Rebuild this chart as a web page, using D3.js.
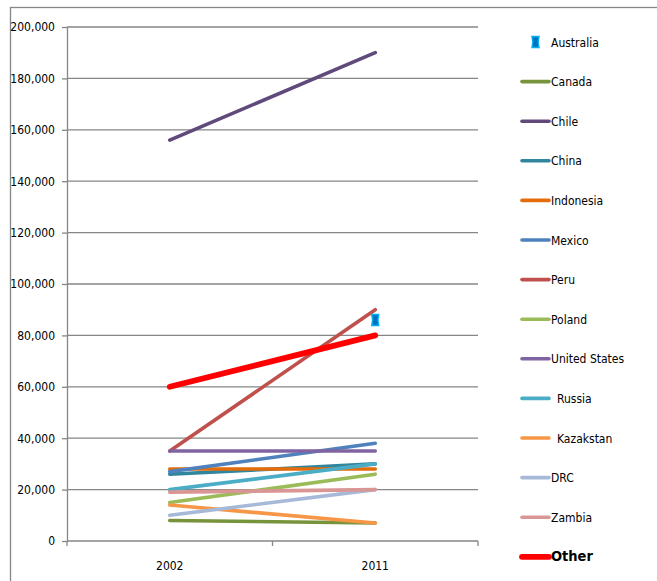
<!DOCTYPE html>
<html>
<head>
<meta charset="utf-8">
<script src="https://cdn.jsdelivr.net/npm/d3@7"></script>
<style>
  body { margin: 0; background: #fff; }
  svg text { font-family: "DejaVu Sans Condensed", "Liberation Sans", sans-serif; fill: #000; }
  .grid line { stroke: #868686; stroke-width: 1.3; }
  .axis path, .axis line { stroke: #868686; stroke-width: 1.3; }
</style>
</head>
<body>
<svg id="chart" width="657" height="581"></svg>
<script>
/* Data */

var YEARS = ["2002", "2011"];

var SERIES_NAMES = ["Australia", "Canada", "Chile", "China", "Indonesia", "Mexico", "Peru",
                    "Poland", "United States", "Russia", "Kazakstan", "DRC", "Zambia", "Other"];

var LEGEND_LABELS = ["Australia", "Canada", "Chile", "China", "Indonesia", "Mexico", "Peru",
                     "Poland", "United States", " Russia", " Kazakstan", "DRC", "Zambia", "Other"];

var VALUES_2002 = [null, 8000, 156000, 26000, 28000, 27000, 35000,
                   15000, 35000, 20000, 14000, 10000, 19000, 60000];

var VALUES_2011 = [86000, 7000, 190000, 30000, 28000, 38000, 90000,
                   26000, 35000, 30000, 7000, 20000, 20000, 80000];

var Y_TICKS = [0, 20000, 40000, 60000, 80000, 100000, 120000, 140000, 160000, 180000, 200000];

/* Styles */

var COLORS = ["#0070C0", "#77933C", "#604A7B", "#31859C", "#E46C0A", "#4F81BD", "#C0504D",
              "#9BBB59", "#8064A2", "#4BACC6", "#F79646", "#A7B9D8", "#D99694", "#FF0000"];

/* Measures */

var W = 657, H = 581;
var PLOT = { left: 67, top: 27, right: 478, bottom: 541 };
var LINE_WIDTH = 3.6, OTHER_WIDTH = 5.8;
var FONT_SIZE = "12px", OTHER_FONT_SIZE = "14.5px";
var LEGEND = { lineX1: 522, lineX2: 549, textX: 551, top: 42, step: 39.6 };

var svg = d3.select("#chart");

// outer frame
svg.append("rect")
  .attr("x", 10.5).attr("y", 7.5)
  .attr("width", 700).attr("height", 600)
  .attr("fill", "none").attr("stroke", "#868686").attr("stroke-width", 1.3);

var x = d3.scaleBand().domain(YEARS).range([PLOT.left, PLOT.right]);
var y = d3.scaleLinear().domain([0, 200000]).range([PLOT.bottom, PLOT.top]);
var xc = function(year) { return x(year) + x.bandwidth() / 2; };

// gridlines
svg.append("g").attr("class", "grid")
  .selectAll("line")
  .data(Y_TICKS.slice(1))
  .enter().append("line")
  .attr("x1", PLOT.left).attr("x2", PLOT.right)
  .attr("y1", function(d) { return y(d); })
  .attr("y2", function(d) { return y(d); });

// y axis
var yAxis = svg.append("g").attr("class", "axis")
  .attr("transform", "translate(" + PLOT.left + ",0)")
  .call(d3.axisLeft(y).tickValues(Y_TICKS).tickSize(5).tickSizeOuter(0).tickPadding(7)
          .tickFormat(d3.format(",")));
yAxis.selectAll("text").style("font-size", FONT_SIZE);

// x axis: ticks sit on the band edges
var xAxis = svg.append("g").attr("class", "axis")
  .attr("transform", "translate(0," + PLOT.bottom + ")");
xAxis.append("line")
  .attr("x1", PLOT.left).attr("x2", PLOT.right);
xAxis.selectAll("line.tick")
  .data(x.domain().map(function(d) { return x(d); }).concat([PLOT.right]))
  .enter().append("line")
  .attr("class", "tick")
  .attr("x1", function(d) { return d; }).attr("x2", function(d) { return d; })
  .attr("y1", 0).attr("y2", 5);
xAxis.selectAll("text")
  .data(YEARS)
  .enter().append("text")
  .attr("x", xc)
  .attr("y", 29)
  .attr("text-anchor", "middle")
  .style("font-size", FONT_SIZE)
  .text(String);

// series
var series = SERIES_NAMES.map(function(name, i) {
  return { name: name, color: COLORS[i], i: i,
           values: [{ year: YEARS[0], v: VALUES_2002[i] }, { year: YEARS[1], v: VALUES_2011[i] }] };
});

var line = d3.line()
  .defined(function(d) { return d.v !== null; })
  .x(function(d) { return xc(d.year); })
  .y(function(d) { return y(d.v); });

svg.append("g").selectAll("path")
  .data(series.filter(function(s) { return s.name !== "Australia"; }))
  .enter().append("path")
  .attr("d", function(s) { return line(s.values); })
  .attr("fill", "none")
  .attr("stroke", function(s) { return s.color; })
  .attr("stroke-width", function(s) { return s.name === "Other" ? OTHER_WIDTH : LINE_WIDTH; })
  .attr("stroke-linecap", "round");

// Australia marker (rectangle with pinched sides)
function markerPath(cx, cy) {
  return "M" + (cx - 3.5) + "," + (cy - 5.5) +
         " L" + (cx + 3.5) + "," + (cy - 5.5) +
         " Q" + (cx + 1.8) + "," + cy + " " + (cx + 3.5) + "," + (cy + 5.5) +
         " L" + (cx - 3.5) + "," + (cy + 5.5) +
         " Q" + (cx - 1.8) + "," + cy + " " + (cx - 3.5) + "," + (cy - 5.5) + "Z";
}
var aus = series[0];
svg.append("g").selectAll("path")
  .data(aus.values.filter(function(d) { return d.v !== null; }))
  .enter().append("path")
  .attr("d", function(d) { return markerPath(xc(d.year), y(d.v)); })
  .attr("fill", aus.color)
  .attr("stroke", "#00B0F0")
  .attr("stroke-width", 1.4);

// legend
var legend = svg.append("g");
var rows = legend.selectAll("g")
  .data(series)
  .enter().append("g")
  .attr("transform", function(s, i) { return "translate(0," + (LEGEND.top + i * LEGEND.step) + ")"; });

rows.filter(function(s) { return s.name !== "Australia"; })
  .append("line")
  .attr("x1", LEGEND.lineX1).attr("x2", LEGEND.lineX2)
  .attr("stroke", function(s) { return s.color; })
  .attr("stroke-width", function(s) { return s.name === "Other" ? OTHER_WIDTH : LINE_WIDTH; })
  .attr("stroke-linecap", "round");

rows.filter(function(s) { return s.name === "Australia"; })
  .append("path")
  .attr("d", markerPath((LEGEND.lineX1 + LEGEND.lineX2) / 2, 0))
  .attr("fill", aus.color)
  .attr("stroke", "#00B0F0")
  .attr("stroke-width", 1.4);

rows.append("text")
  .attr("x", function(s) { return LEGEND.textX + (LEGEND_LABELS[s.i] !== s.name ? 6 : 0); })
  .attr("y", 4.5)
  .style("font-size", function(s) { return s.name === "Other" ? OTHER_FONT_SIZE : FONT_SIZE; })
  .style("font-weight", function(s) { return s.name === "Other" ? "bold" : "normal"; })
  .text(function(s) { return s.name; });
</script>
</body>
</html>
